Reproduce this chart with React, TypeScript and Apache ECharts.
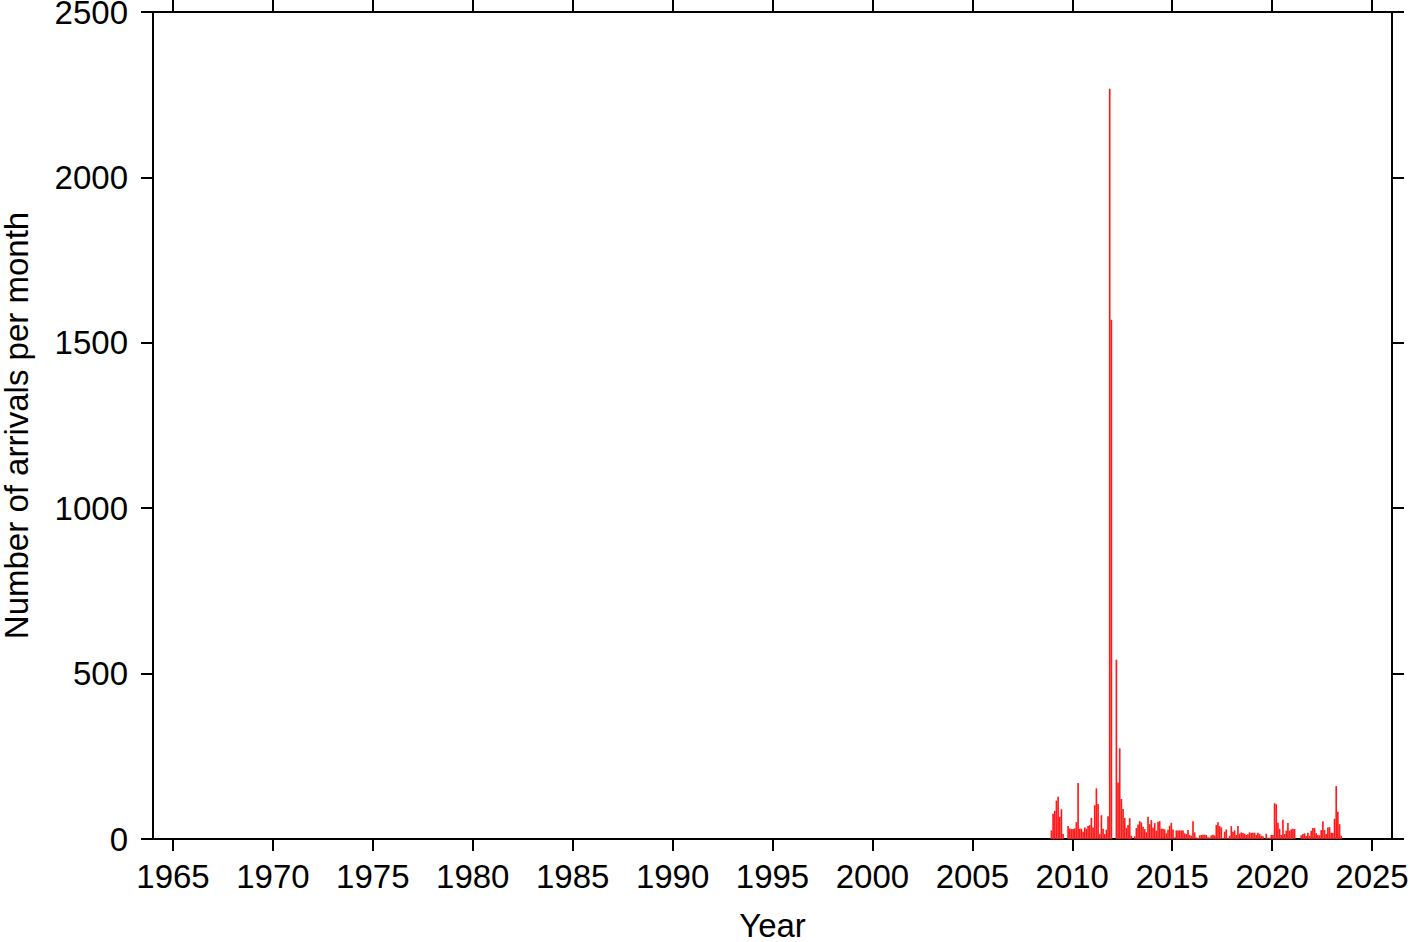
import React, { useEffect, useRef } from "react";
import * as echarts from "echarts";

// Monthly arrival counts, first month = December 2008
const START_YEAR = 2008;
const START_MONTH = 12; // 1-based
const monthlyCounts: number[] = [
  26, 76, 85, 116, 128, 67, 90, 15, 0, 0, 39, 32,
  30, 30, 32, 51, 169, 31, 31, 22, 35, 31, 39, 42,
  64, 35, 102, 153, 106, 15, 72, 31, 15, 28, 69, 2268,
  1570, 0, 0, 542, 171, 274, 121, 91, 64, 33, 42, 63,
  10, 0, 8, 33, 44, 54, 50, 37, 30, 20, 67, 45,
  57, 35, 48, 25, 52, 54, 31, 31, 29, 17, 28, 40,
  49, 29, 5, 26, 26, 26, 26, 26, 17, 15, 27, 12,
  10, 54, 20, 5, 3, 11, 12, 13, 13, 12, 5, 4,
  11, 13, 11, 42, 51, 39, 35, 3, 22, 29, 3, 10,
  39, 22, 26, 12, 39, 16, 20, 18, 16, 12, 14, 20,
  18, 19, 19, 12, 19, 15, 10, 8, 0, 16, 4, 4,
  12, 12, 108, 105, 49, 31, 12, 58, 15, 25, 48, 25,
  29, 31, 30, 0, 0, 0, 11, 15, 17, 9, 19, 10,
  25, 33, 33, 18, 12, 11, 27, 54, 27, 15, 35, 36,
  19, 18, 61, 160, 82, 45, 10,
];

const xTickYears: number[] = [1965, 1970, 1975, 1980, 1985, 1990, 1995, 2000, 2005, 2010, 2015, 2020, 2025];
const yTicks: number[] = [0, 500, 1000, 1500, 2000, 2500];

const X_MIN = 1964;
const X_MAX = 2026;
const FONT = "Liberation Sans, Arial, Helvetica, sans-serif";
const FS = 33;

export default function App() {
  const ref = useRef<HTMLDivElement>(null);

  useEffect(() => {
    if (!ref.current) return;
    const chart = echarts.init(ref.current, undefined, { renderer: "svg" });

    const data = monthlyCounts.map((v, i) => {
      const monthIndex = START_MONTH - 1 + i;
      const x = START_YEAR + (monthIndex + 0.5) / 12;
      return [x, v];
    });

    const axisLineStyle = { color: "#000", width: 2 };
    const tickStyle = { color: "#000", width: 2 };

    chart.setOption({
      animation: false,
      backgroundColor: "#fff",
      grid: {
        left: 153,
        right: 27,
        top: 12,
        bottom: 103,
        containLabel: false,
        outerBoundsMode: "none",
      },
      xAxis: [
        {
          type: "value",
          min: X_MIN,
          max: X_MAX,
          position: "bottom",
          name: "Year",
          nameLocation: "middle",
          nameGap: 70,
          nameTextStyle: { color: "#000", fontSize: FS, fontFamily: FONT },
          axisLine: { show: true, onZero: false, lineStyle: axisLineStyle },
          axisTick: { show: true, inside: false, length: 12, lineStyle: tickStyle, customValues: xTickYears },
          axisLabel: {
            show: true,
            color: "#000",
            fontSize: FS,
            fontFamily: FONT,
            margin: 21,
            customValues: xTickYears,
            formatter: (v: number) => String(v),
          },
          splitLine: { show: false },
        },
        {
          type: "value",
          min: X_MIN,
          max: X_MAX,
          position: "top",
          axisLine: { show: true, onZero: false, lineStyle: axisLineStyle },
          axisTick: { show: true, inside: false, length: 12, lineStyle: tickStyle, customValues: xTickYears },
          axisLabel: { show: false },
          splitLine: { show: false },
        },
      ],
      yAxis: [
        {
          type: "value",
          min: 0,
          max: 2500,
          interval: 500,
          position: "left",
          name: "Number of arrivals per month",
          nameLocation: "middle",
          nameGap: 120,
          nameTextStyle: { color: "#000", fontSize: FS, fontFamily: FONT },
          axisLine: { show: true, onZero: false, lineStyle: axisLineStyle },
          axisTick: { show: true, inside: false, length: 12, lineStyle: tickStyle },
          axisLabel: {
            show: true,
            color: "#000",
            fontSize: FS,
            fontFamily: FONT,
            margin: 25,
            formatter: (v: number) => String(v),
          },
          splitLine: { show: false },
        },
        {
          type: "value",
          min: 0,
          max: 2500,
          interval: 500,
          position: "right",
          axisLine: { show: true, onZero: false, lineStyle: axisLineStyle },
          axisTick: { show: true, inside: false, length: 12, lineStyle: tickStyle },
          axisLabel: { show: false },
          splitLine: { show: false },
        },
      ],
      series: [
        {
          type: "bar",
          xAxisIndex: 0,
          yAxisIndex: 0,
          data,
          barWidth: 1.67,
          itemStyle: { color: "#ff1a1a" },
          silent: true,
        },
      ],
    });

    return () => chart.dispose();
  }, []);

  return (
    <div
      ref={ref}
      style={{ position: "absolute", left: 0, top: 0, width: 1419, height: 942 }}
    />
  );
}
